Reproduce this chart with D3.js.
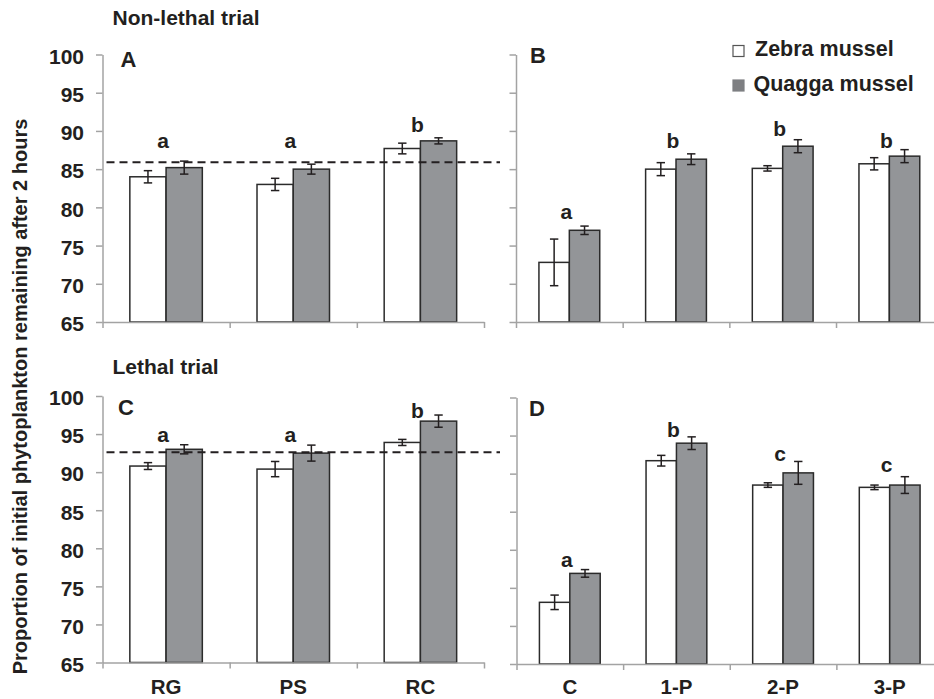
<!DOCTYPE html>
<html>
<head>
<meta charset="utf-8">
<script src="https://cdn.jsdelivr.net/npm/d3@7"></script>
<style>
  body { margin: 0; background: #fff; }
  svg text { font-family: "Liberation Sans", Arial, sans-serif; font-weight: bold; fill: #231f20; }
</style>
</head>
<body>
<div id="chart"></div>
<script>
// categories
const substrateCats = ["RG", "PS", "RC"];
const predatorCats = ["C", "1-P", "2-P", "3-P"];
const seriesNames = ["Zebra mussel", "Quagga mussel"];
const yTicks = [65, 70, 75, 80, 85, 90, 95, 100];

// A: non-lethal, substrate
const aZebra = [84.0, 83.0, 87.7];
const aZebraErr = [0.8, 0.8, 0.7];
const aQuagga = [85.2, 85.0, 88.7];
const aQuaggaErr = [0.85, 0.65, 0.4];
const aLetters = ["a", "a", "b"];
const aLetterAt = [87.75, 87.75, 89.9];
const aControl = 85.9;

// B: non-lethal, predators
const bZebra = [72.8, 85.0, 85.1, 85.7];
const bZebraErr = [3.05, 0.85, 0.35, 0.8];
const bQuagga = [77.0, 86.3, 88.0, 86.7];
const bQuaggaErr = [0.55, 0.7, 0.85, 0.85];
const bLetters = ["a", "b", "b", "b"];
const bLetterAt = [78.5, 87.8, 89.3, 87.8];

// C: lethal, substrate
const cZebra = [90.8, 90.4, 93.9];
const cZebraErr = [0.45, 1.0, 0.4];
const cQuagga = [93.0, 92.5, 96.7];
const cQuaggaErr = [0.6, 1.05, 0.8];
const cLetters = ["a", "a", "b"];
const cLetterAt = [94.0, 94.0, 97.1];
const cControl = 92.6;

// D: lethal, predators
const dZebra = [73.1, 91.7, 88.5, 88.2];
const dZebraErr = [0.95, 0.7, 0.3, 0.3];
const dQuagga = [76.9, 94.0, 90.1, 88.5];
const dQuaggaErr = [0.5, 0.83, 1.5, 1.1];
const dLetters = ["a", "b", "c", "c"];
const dLetterAt = [77.8, 94.75, 91.7, 90.2];

const W = 934, H = 699;
const svg = d3.select("#chart").append("svg")
    .attr("width", W)
    .attr("height", H);

const axisColor = "#a3a3a3";
const barStroke = "#2b2b2b";
const quaggaFill = "#939598";

function makeRows(cats, zebra, zebraErr, quagga, quaggaErr) {
    return cats.map((c, i) => ({
        cat: c,
        vals: [
            {s: 0, v: zebra[i], e: zebraErr[i]},
            {s: 1, v: quagga[i], e: quaggaErr[i]}
        ]
    }));
}

function drawPanel(p) {
    const x = d3.scaleBand()
        .domain(p.cats)
        .range([p.x0, p.x1])
        .paddingInner(0.43)
        .paddingOuter(0.215);
    const xs = d3.scaleBand()
        .domain([0, 1])
        .range([0, x.bandwidth()]);
    const y = d3.scaleLinear()
        .domain([65, 100])
        .range([p.yBottom, p.yTop]);

    const g = svg.append("g");

    // bars
    const groups = g.selectAll(".grp")
        .data(p.rows)
        .enter().append("g")
        .attr("class", "grp")
        .attr("transform", d => `translate(${x(d.cat)},0)`);

    groups.selectAll("rect")
        .data(d => d.vals)
        .enter().append("rect")
        .attr("x", d => xs(d.s))
        .attr("y", d => y(d.v))
        .attr("width", xs.bandwidth())
        .attr("height", d => y(65) - y(d.v))
        .attr("fill", d => d.s === 0 ? "#fff" : quaggaFill)
        .attr("stroke", barStroke)
        .attr("stroke-width", 1.5);

    // error bars
    const eb = groups.selectAll(".err")
        .data(d => d.vals)
        .enter().append("g")
        .attr("class", "err")
        .attr("stroke", "#231f20")
        .attr("stroke-width", 1.5);
    eb.append("line")
        .attr("x1", d => xs(d.s) + xs.bandwidth() / 2)
        .attr("x2", d => xs(d.s) + xs.bandwidth() / 2)
        .attr("y1", d => y(d.v + d.e))
        .attr("y2", d => y(d.v - d.e));
    [1, -1].forEach(sign => {
        eb.append("line")
            .attr("x1", d => xs(d.s) + xs.bandwidth() / 2 - 4.2)
            .attr("x2", d => xs(d.s) + xs.bandwidth() / 2 + 4.2)
            .attr("y1", d => y(d.v + sign * d.e))
            .attr("y2", d => y(d.v + sign * d.e));
    });

    // significance letters
    g.selectAll(".sig")
        .data(p.cats)
        .enter().append("text")
        .attr("class", "sig")
        .attr("x", (d, i) => x(d) + x.bandwidth() / 2 - 3)
        .attr("y", (d, i) => y(p.letterAt[i]))
        .attr("text-anchor", "middle")
        .style("font-size", "21px")
        .text((d, i) => p.letters[i]);

    // y axis
    const yAxis = d3.axisLeft(y)
        .tickValues(yTicks)
        .tickSize(6.5)
        .tickPadding(12)
        .tickSizeOuter(0)
        .tickFormat(p.showY ? d3.format("d") : "");
    const yg = g.append("g")
        .attr("transform", `translate(${p.x0},0)`)
        .call(yAxis);

    // x axis: ticks at category boundaries
    const xb = d3.scaleLinear().domain([0, p.cats.length]).range([p.x0, p.x1]);
    const xAxis = d3.axisBottom(xb)
        .tickValues(d3.range(p.cats.length + 1))
        .tickSize(6)
        .tickSizeOuter(0)
        .tickFormat("");
    const xg = g.append("g")
        .attr("transform", `translate(0,${p.yBottom})`)
        .call(xAxis);

    [yg, xg].forEach(a => {
        a.selectAll("path, line").attr("stroke", axisColor).attr("stroke-width", 1.5);
        a.selectAll("text").style("font-size", "21px").attr("fill", "#231f20");
    });
    yg.selectAll("text").attr("dy", "0.42em");

    if (p.showX) {
        g.selectAll(".xlab")
            .data(p.cats)
            .enter().append("text")
            .attr("x", d => x(d) + x.bandwidth() / 2)
            .attr("y", 694)
            .attr("text-anchor", "middle")
            .style("font-size", "20.5px")
            .text(d => d);
    }

    // control reference line
    if (p.control !== undefined) {
        g.append("line")
            .attr("x1", p.x0 + 4)
            .attr("x2", 500)
            .attr("y1", y(p.control))
            .attr("y2", y(p.control))
            .attr("stroke", "#231f20")
            .attr("stroke-width", 2)
            .attr("stroke-dasharray", "8,5");
    }

    // panel letter
    g.append("text")
        .attr("x", p.x0 + p.labelDx)
        .attr("y", p.yTop + p.labelDy)
        .style("font-size", "22px")
        .text(p.label);
}

const panels = [
    {label: "A", cats: substrateCats, rows: makeRows(substrateCats, aZebra, aZebraErr, aQuagga, aQuaggaErr),
     letters: aLetters, letterAt: aLetterAt, control: aControl,
     x0: 102.5, x1: 484, yTop: 54.5, yBottom: 322, showY: true, showX: false, labelDx: 18, labelDy: 12.5},
    {label: "B", cats: predatorCats, rows: makeRows(predatorCats, bZebra, bZebraErr, bQuagga, bQuaggaErr),
     letters: bLetters, letterAt: bLetterAt,
     x0: 516, x1: 942.7, yTop: 54.5, yBottom: 322, showY: false, showX: false, labelDx: 14, labelDy: 8.5},
    {label: "C", cats: substrateCats, rows: makeRows(substrateCats, cZebra, cZebraErr, cQuagga, cQuaggaErr),
     letters: cLetters, letterAt: cLetterAt, control: cControl,
     x0: 102.5, x1: 484, yTop: 396, yBottom: 662.5, showY: true, showX: true, labelDx: 15.5, labelDy: 19},
    {label: "D", cats: predatorCats, rows: makeRows(predatorCats, dZebra, dZebraErr, dQuagga, dQuaggaErr),
     letters: dLetters, letterAt: dLetterAt,
     x0: 516.5, x1: 943, yTop: 397.5, yBottom: 664, showY: false, showX: true, labelDx: 12.5, labelDy: 18.5}
];
panels.forEach(drawPanel);

// trial titles
svg.append("text").attr("x", 112.5).attr("y", 25).style("font-size", "21px").text("Non-lethal trial");
svg.append("text").attr("x", 112.5).attr("y", 373.5).style("font-size", "21px").text("Lethal trial");

// y axis title
svg.append("text")
    .attr("transform", "translate(26.5,396.5) rotate(-90)")
    .attr("text-anchor", "middle")
    .style("font-size", "20px")
    .text("Proportion of initial phytoplankton remaining after 2 hours");

// legend
const legend = svg.selectAll(".legend")
    .data(seriesNames)
    .enter().append("g")
    .attr("class", "legend")
    .attr("transform", (d, i) => `translate(732.5,${45 + i * 34.5})`);
legend.append("rect")
    .attr("x", 0.5)
    .attr("y", 0.5)
    .attr("width", 11)
    .attr("height", 11)
    .attr("fill", (d, i) => i === 0 ? "#fff" : "#7e7f82")
    .attr("stroke", (d, i) => i === 0 ? "#555" : "#7e7f82")
    .attr("stroke-width", 1.2);
legend.append("text")
    .attr("x", (d, i) => i === 0 ? 22.5 : 21)
    .attr("y", 11)
    .style("font-size", "21.5px")
    .text(d => d);
</script>
</body>
</html>
